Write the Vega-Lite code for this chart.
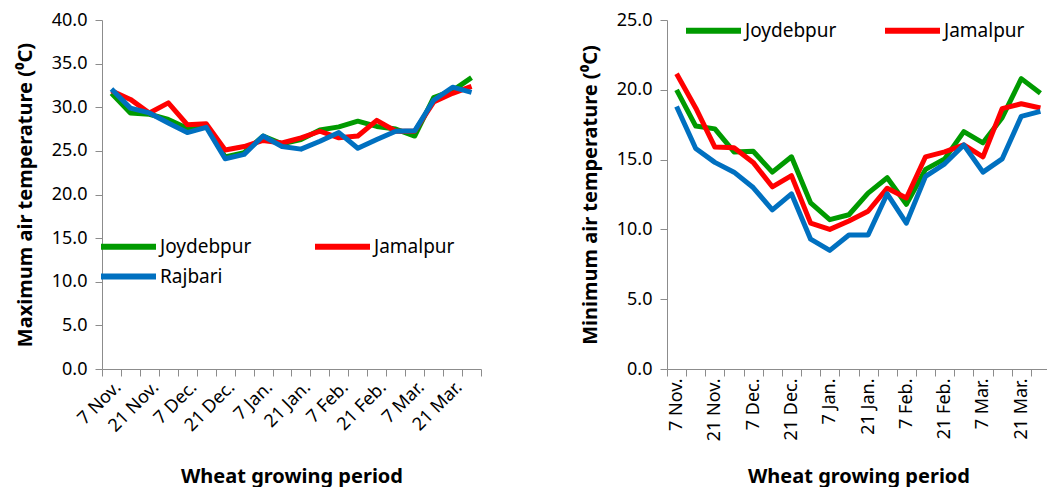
{
  "$schema": "https://vega.github.io/schema/vega-lite/v6.json",
  "background": "white",
  "padding": {"left": 15, "top": 11, "right": 0, "bottom": 0},
  "config": {
    "font": "Noto Sans",
    "view": {"stroke": null},
    "axis": {"grid": false, "domainColor": "#8c8c8c", "tickColor": "#8c8c8c", "tickSize": 7, "labelFontSize": 18, "labelColor": "#000", "titleFontSize": 20, "titleFontWeight": "bold", "titleColor": "#000", "labelFont": "Noto Sans", "titleFont": "Noto Sans"},
    "legend": {"labelFont": "Noto Sans", "labelFontSize": 19, "labelColor": "#000"}
  },
  "datasets": {
    "maxT": [
      {"date": "7 Nov.", "station": "Joydebpur", "t": 31.6},
      {"date": "14 Nov.", "station": "Joydebpur", "t": 29.35},
      {"date": "21 Nov.", "station": "Joydebpur", "t": 29.2},
      {"date": "28 Nov.", "station": "Joydebpur", "t": 28.6},
      {"date": "7 Dec.", "station": "Joydebpur", "t": 27.6},
      {"date": "14 Dec.", "station": "Joydebpur", "t": 27.9},
      {"date": "21 Dec.", "station": "Joydebpur", "t": 24.3},
      {"date": "28 Dec.", "station": "Joydebpur", "t": 24.8},
      {"date": "7 Jan.", "station": "Joydebpur", "t": 26.7},
      {"date": "14 Jan.", "station": "Joydebpur", "t": 25.8},
      {"date": "21 Jan.", "station": "Joydebpur", "t": 26.3},
      {"date": "28 Jan.", "station": "Joydebpur", "t": 27.4},
      {"date": "7 Feb.", "station": "Joydebpur", "t": 27.75},
      {"date": "14 Feb.", "station": "Joydebpur", "t": 28.4},
      {"date": "21 Feb.", "station": "Joydebpur", "t": 27.8},
      {"date": "28 Feb.", "station": "Joydebpur", "t": 27.5},
      {"date": "7 Mar.", "station": "Joydebpur", "t": 26.7},
      {"date": "14 Mar.", "station": "Joydebpur", "t": 31.1},
      {"date": "21 Mar.", "station": "Joydebpur", "t": 31.9},
      {"date": "28 Mar.", "station": "Joydebpur", "t": 33.4},
      {"date": "7 Nov.", "station": "Jamalpur", "t": 31.9},
      {"date": "14 Nov.", "station": "Jamalpur", "t": 30.9},
      {"date": "21 Nov.", "station": "Jamalpur", "t": 29.35},
      {"date": "28 Nov.", "station": "Jamalpur", "t": 30.5},
      {"date": "7 Dec.", "station": "Jamalpur", "t": 28.0},
      {"date": "14 Dec.", "station": "Jamalpur", "t": 28.1},
      {"date": "21 Dec.", "station": "Jamalpur", "t": 25.1},
      {"date": "28 Dec.", "station": "Jamalpur", "t": 25.5},
      {"date": "7 Jan.", "station": "Jamalpur", "t": 26.2},
      {"date": "14 Jan.", "station": "Jamalpur", "t": 25.9},
      {"date": "21 Jan.", "station": "Jamalpur", "t": 26.5},
      {"date": "28 Jan.", "station": "Jamalpur", "t": 27.25},
      {"date": "7 Feb.", "station": "Jamalpur", "t": 26.5},
      {"date": "14 Feb.", "station": "Jamalpur", "t": 26.7},
      {"date": "21 Feb.", "station": "Jamalpur", "t": 28.5},
      {"date": "28 Feb.", "station": "Jamalpur", "t": 27.25},
      {"date": "7 Mar.", "station": "Jamalpur", "t": 27.25},
      {"date": "14 Mar.", "station": "Jamalpur", "t": 30.6},
      {"date": "21 Mar.", "station": "Jamalpur", "t": 31.6},
      {"date": "28 Mar.", "station": "Jamalpur", "t": 32.4},
      {"date": "7 Nov.", "station": "Rajbari", "t": 32.1},
      {"date": "14 Nov.", "station": "Rajbari", "t": 29.9},
      {"date": "21 Nov.", "station": "Rajbari", "t": 29.35},
      {"date": "28 Nov.", "station": "Rajbari", "t": 28.2},
      {"date": "7 Dec.", "station": "Rajbari", "t": 27.1},
      {"date": "14 Dec.", "station": "Rajbari", "t": 27.7},
      {"date": "21 Dec.", "station": "Rajbari", "t": 24.1},
      {"date": "28 Dec.", "station": "Rajbari", "t": 24.6},
      {"date": "7 Jan.", "station": "Rajbari", "t": 26.7},
      {"date": "14 Jan.", "station": "Rajbari", "t": 25.5},
      {"date": "21 Jan.", "station": "Rajbari", "t": 25.2},
      {"date": "28 Jan.", "station": "Rajbari", "t": 26.1},
      {"date": "7 Feb.", "station": "Rajbari", "t": 27.1},
      {"date": "14 Feb.", "station": "Rajbari", "t": 25.3},
      {"date": "21 Feb.", "station": "Rajbari", "t": 26.3},
      {"date": "28 Feb.", "station": "Rajbari", "t": 27.25},
      {"date": "7 Mar.", "station": "Rajbari", "t": 27.3},
      {"date": "14 Mar.", "station": "Rajbari", "t": 30.8},
      {"date": "21 Mar.", "station": "Rajbari", "t": 32.3},
      {"date": "28 Mar.", "station": "Rajbari", "t": 31.7}
    ],
    "minT": [
      {"date": "7 Nov.", "station": "Joydebpur", "t": 20.0},
      {"date": "14 Nov.", "station": "Joydebpur", "t": 17.4},
      {"date": "21 Nov.", "station": "Joydebpur", "t": 17.2},
      {"date": "28 Nov.", "station": "Joydebpur", "t": 15.55},
      {"date": "7 Dec.", "station": "Joydebpur", "t": 15.6},
      {"date": "14 Dec.", "station": "Joydebpur", "t": 14.1},
      {"date": "21 Dec.", "station": "Joydebpur", "t": 15.2},
      {"date": "28 Dec.", "station": "Joydebpur", "t": 11.9},
      {"date": "7 Jan.", "station": "Joydebpur", "t": 10.7},
      {"date": "14 Jan.", "station": "Joydebpur", "t": 11.05},
      {"date": "21 Jan.", "station": "Joydebpur", "t": 12.6},
      {"date": "28 Jan.", "station": "Joydebpur", "t": 13.7},
      {"date": "7 Feb.", "station": "Joydebpur", "t": 11.8},
      {"date": "14 Feb.", "station": "Joydebpur", "t": 14.3},
      {"date": "21 Feb.", "station": "Joydebpur", "t": 15.05},
      {"date": "28 Feb.", "station": "Joydebpur", "t": 17.0},
      {"date": "7 Mar.", "station": "Joydebpur", "t": 16.2},
      {"date": "14 Mar.", "station": "Joydebpur", "t": 18.0},
      {"date": "21 Mar.", "station": "Joydebpur", "t": 20.8},
      {"date": "28 Mar.", "station": "Joydebpur", "t": 19.75},
      {"date": "7 Nov.", "station": "Jamalpur", "t": 21.15},
      {"date": "14 Nov.", "station": "Jamalpur", "t": 18.7},
      {"date": "21 Nov.", "station": "Jamalpur", "t": 15.9},
      {"date": "28 Nov.", "station": "Jamalpur", "t": 15.85},
      {"date": "7 Dec.", "station": "Jamalpur", "t": 14.8},
      {"date": "14 Dec.", "station": "Jamalpur", "t": 13.05},
      {"date": "21 Dec.", "station": "Jamalpur", "t": 13.85},
      {"date": "28 Dec.", "station": "Jamalpur", "t": 10.45},
      {"date": "7 Jan.", "station": "Jamalpur", "t": 10.0},
      {"date": "14 Jan.", "station": "Jamalpur", "t": 10.6},
      {"date": "21 Jan.", "station": "Jamalpur", "t": 11.3},
      {"date": "28 Jan.", "station": "Jamalpur", "t": 12.95},
      {"date": "7 Feb.", "station": "Jamalpur", "t": 12.25},
      {"date": "14 Feb.", "station": "Jamalpur", "t": 15.2},
      {"date": "21 Feb.", "station": "Jamalpur", "t": 15.55},
      {"date": "28 Feb.", "station": "Jamalpur", "t": 16.05},
      {"date": "7 Mar.", "station": "Jamalpur", "t": 15.2},
      {"date": "14 Mar.", "station": "Jamalpur", "t": 18.65},
      {"date": "21 Mar.", "station": "Jamalpur", "t": 19.0},
      {"date": "28 Mar.", "station": "Jamalpur", "t": 18.7},
      {"date": "7 Nov.", "station": "Rajbari", "t": 18.8},
      {"date": "14 Nov.", "station": "Rajbari", "t": 15.8},
      {"date": "21 Nov.", "station": "Rajbari", "t": 14.8},
      {"date": "28 Nov.", "station": "Rajbari", "t": 14.1},
      {"date": "7 Dec.", "station": "Rajbari", "t": 13.0},
      {"date": "14 Dec.", "station": "Rajbari", "t": 11.4},
      {"date": "21 Dec.", "station": "Rajbari", "t": 12.55},
      {"date": "28 Dec.", "station": "Rajbari", "t": 9.3},
      {"date": "7 Jan.", "station": "Rajbari", "t": 8.5},
      {"date": "14 Jan.", "station": "Rajbari", "t": 9.6},
      {"date": "21 Jan.", "station": "Rajbari", "t": 9.6},
      {"date": "28 Jan.", "station": "Rajbari", "t": 12.55},
      {"date": "7 Feb.", "station": "Rajbari", "t": 10.45},
      {"date": "14 Feb.", "station": "Rajbari", "t": 13.8},
      {"date": "21 Feb.", "station": "Rajbari", "t": 14.7},
      {"date": "28 Feb.", "station": "Rajbari", "t": 16.05},
      {"date": "7 Mar.", "station": "Rajbari", "t": 14.1},
      {"date": "14 Mar.", "station": "Rajbari", "t": 15.05},
      {"date": "21 Mar.", "station": "Rajbari", "t": 18.1},
      {"date": "28 Mar.", "station": "Rajbari", "t": 18.45}
    ]
  },
  "resolve": {"legend": {"color": "independent"}},
  "spacing": 95,
  "hconcat": [
    {
      "width": 379,
      "height": 349,
      "data": {"name": "maxT"},
      "mark": {"type": "line", "strokeWidth": 5, "strokeJoin": "round"},
      "encoding": {
        "x": {
          "field": "date", "type": "ordinal", "sort": null,
          "scale": {"type": "band", "paddingInner": 0, "paddingOuter": 0},
          "axis": {"title": "Wheat growing period", "tickBand": "extent", "labelAngle": -45, "labelOverlap": false, "labelPadding": 2, "titlePadding": 31,
                   "labelExpr": "test(regexp('^(7|21) '), datum.value) ? datum.label : ''"}
        },
        "y": {
          "field": "t", "type": "quantitative",
          "scale": {"domain": [0, 40], "nice": false},
          "axis": {"title": "Maximum air temperature (⁰C)", "values": [0, 5, 10, 15, 20, 25, 30, 35, 40], "format": ".1f", "labelPadding": 8, "titlePadding": 16}
        },
        "color": {
          "field": "station", "type": "nominal",
          "scale": {"domain": ["Joydebpur", "Jamalpur", "Rajbari"], "range": ["#009a00", "#ff0000", "#0070c0"]},
          "legend": {"orient": "none", "legendX": 17, "legendY": 217, "direction": "horizontal", "columns": 2, "title": null,
                     "symbolType": "M-5,0H5", "symbolSize": 121, "symbolStrokeWidth": 6, "labelOffset": 22, "columnPadding": 51, "rowPadding": 5}
        }
      }
    },
    {
      "width": 383,
      "height": 349,
      "data": {"name": "minT"},
      "mark": {"type": "line", "strokeWidth": 5, "strokeJoin": "round"},
      "encoding": {
        "x": {
          "field": "date", "type": "ordinal", "sort": null,
          "scale": {"type": "band", "paddingInner": 0, "paddingOuter": 0},
          "axis": {"title": "Wheat growing period", "tickBand": "extent", "labelAngle": -90, "labelOverlap": false, "labelPadding": 2, "titlePadding": 26,
                   "labelExpr": "test(regexp('^(7|21) '), datum.value) ? datum.label : ''"}
        },
        "y": {
          "field": "t", "type": "quantitative",
          "scale": {"domain": [0, 25], "nice": false},
          "axis": {"title": "Minimum air temperature (⁰C)", "values": [0, 5, 10, 15, 20, 25], "format": ".1f", "labelPadding": 8, "titlePadding": 16}
        },
        "color": {
          "field": "station", "type": "nominal",
          "scale": {"domain": ["Joydebpur", "Jamalpur", "Rajbari"], "range": ["#009a00", "#ff0000", "#0070c0"]},
          "legend": {"orient": "none", "legendX": 37, "legendY": 1, "direction": "horizontal", "columns": 2, "title": null, "values": ["Joydebpur", "Jamalpur"],
                     "symbolType": "M-5,0H5", "symbolSize": 121, "symbolStrokeWidth": 6, "labelOffset": 22, "columnPadding": 36, "rowPadding": 5}
        }
      }
    }
  ]
}
